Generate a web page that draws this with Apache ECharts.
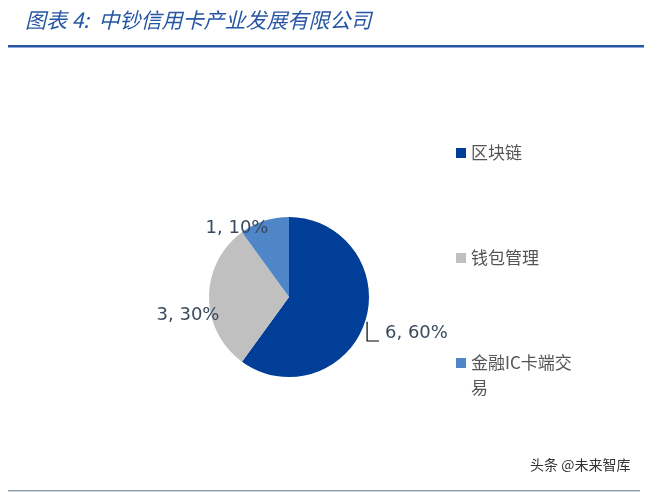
<!DOCTYPE html>
<html>
<head>
<meta charset="utf-8">
<script src="https://cdn.jsdelivr.net/npm/echarts@6/dist/echarts.min.js"></script>
<style>
html,body{margin:0;padding:0;background:#fff;}
#main{width:667px;height:492px;}
</style>
</head>
<body>
<div id="main"></div>
<script>
var categories = ['区块链', '钱包管理', '金融IC卡端交易'];
var values = [6, 3, 1];
var colors = ['#003e97', '#c0c0c0', '#4f86c8'];
var titleText = '图表 4:  中钞信用卡产业发展有限公司';
var sourceText = '头条 @未来智库';

var total = values.reduce(function(a,b){return a+b;},0);
var labelPos = [
  {x: 385, y: 333, align: 'left'},
  {x: 188, y: 315, align: 'center'},
  {x: 237, y: 228, align: 'center'}
];

var chart = echarts.init(document.getElementById('main'));
chart.setOption({
  backgroundColor: '#fff',
  animation: false,
  color: colors,
  graphic: [
    {type: 'text', left: 25, top: 10, style: {text: titleText, fill: '#2556a3', font: 'italic 21px "Noto Sans CJK SC"'}},
    {type: 'rect', shape: {x: 8, y: 45, width: 636, height: 2.5}, style: {fill: '#2556a3'}},
    {type: 'text', left: 471, top: 379, style: {text: '易', fill: '#555', font: '17px "Noto Sans CJK SC"'}},
    {type: 'text', left: 530, top: 458, style: {text: sourceText, fill: '#333', font: '14px "Noto Sans CJK SC"'}},
    {type: 'rect', shape: {x: 8, y: 490, width: 632, height: 1.5}, style: {fill: '#8fa0ad'}}
  ],
  legend: {
    orient: 'vertical',
    left: 451,
    top: 135,
    itemWidth: 10,
    itemHeight: 10,
    itemGap: 79,
    icon: 'rect',
    formatter: function(name){ return name === '金融IC卡端交易' ? '金融IC卡端交' : name; },
    textStyle: {fontSize: 17, color: '#555', fontFamily: 'Noto Sans CJK SC', lineHeight: 26}
  },
  series: [{
    type: 'pie',
    center: [289, 297],
    radius: [0, 80],
    startAngle: 90,
    clockwise: true,
    data: categories.map(function(c, i){
      return {name: c, value: values[i], labelLine: {show: i === 0}};
    }),
    label: {
      show: true,
      position: 'outside',
      formatter: function(p){ return p.value + ', ' + Math.round(p.value / total * 100) + '%'; },
      fontSize: 18,
      color: '#3a4a5e',
      fontFamily: 'DejaVu Sans'
    },
    labelLine: {show: false, lineStyle: {color: '#000', width: 1.2}},
    labelLayout: function(p){
      var lp = labelPos[p.dataIndex];
      var res = {x: lp.x, y: lp.y, align: lp.align, verticalAlign: 'middle'};
      if (p.dataIndex === 0 && p.labelLinePoints) {
        var s = p.labelLinePoints[0];
        res.labelLinePoints = [[s[0] + 2, s[1]], [s[0] + 2, lp.y + 8], [lp.x - 6, lp.y + 8]];
      }
      return res;
    }
  }]
});
</script>
</body>
</html>
